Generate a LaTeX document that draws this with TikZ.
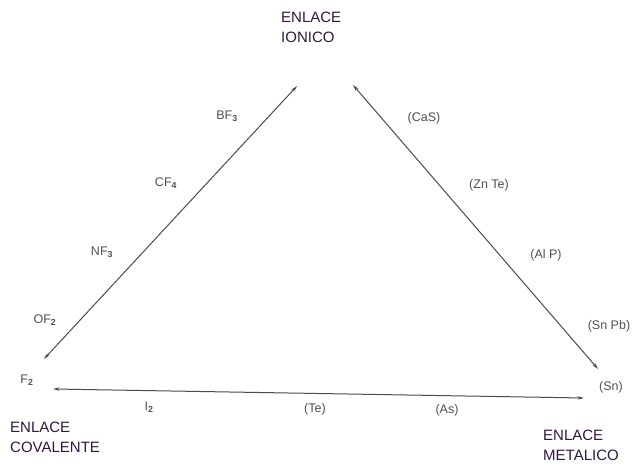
\documentclass[tikz,border=0pt]{standalone}
\usepackage{fontspec}
\setmainfont{Liberation Sans}
\usetikzlibrary{arrows.meta}
\definecolor{linec}{RGB}{75,75,75}
\definecolor{labc}{RGB}{80,80,80}
\definecolor{headc}{RGB}{45,25,60}
\tikzset{
  conn/.style={draw=linec, line width=1pt, {Stealth[length=6.5pt,width=3.4pt]}-{Stealth[length=6.5pt,width=3.4pt]}},
  lab/.style={text=labc, font=\fontsize{12.5}{15}\selectfont, inner sep=0pt},
  head/.style={text=headc, font=\fontsize{15}{20}\selectfont, align=left, inner sep=0pt, anchor=north west}
}
\newcommand{\sbs}[1]{\textsubscript{\bfseries #1}}
\begin{document}
\begin{tikzpicture}[x=1pt,y=-1pt]
\useasboundingbox (0,0) rectangle (637,466);
% apex coordinates
\coordinate (ionL) at (297,86);
\coordinate (ionR) at (353,85);
\coordinate (covT) at (44,359);
\coordinate (covR) at (53,389);
\coordinate (metT) at (598,369);
\coordinate (metL) at (584,398);
% connectors
\draw[conn] (covT) -- (ionL);
\draw[conn] (ionR) -- (metT);
\draw[conn] (covR) -- (metL);
% headings
\node[head] (ionico) at (281,12) {ENLACE\\IONICO};
\node[head] (covalente) at (10,422) {ENLACE\\COVALENTE};
\node[head] (metalico) at (543,430) {ENLACE\\METALICO};
% labels on left side
\node[lab] (bf3) at (227,116) {BF\sbs{3}};
\node[lab] (cf4) at (166,183) {CF\sbs{4}};
\node[lab] (nf3) at (102,252) {NF\sbs{3}};
\node[lab] (of2) at (45,320) {OF\sbs{2}};
\node[lab] (f2) at (27,380) {F\sbs{2}};
% labels on right side
\node[lab] (cas) at (424,118) {(CaS)};
\node[lab] (znte) at (489,185) {(Zn Te)};
\node[lab] (alp) at (546,255) {(Al P)};
\node[lab] (snpb) at (609,326) {(Sn Pb)};
\node[lab] (sn) at (611,387) {(Sn)};
% labels on bottom
\node[lab] (i2) at (149,407) {I\sbs{2}};
\node[lab] (te) at (315,409) {(Te)};
\node[lab] (as) at (447,410) {(As)};
\end{tikzpicture}
\end{document}
